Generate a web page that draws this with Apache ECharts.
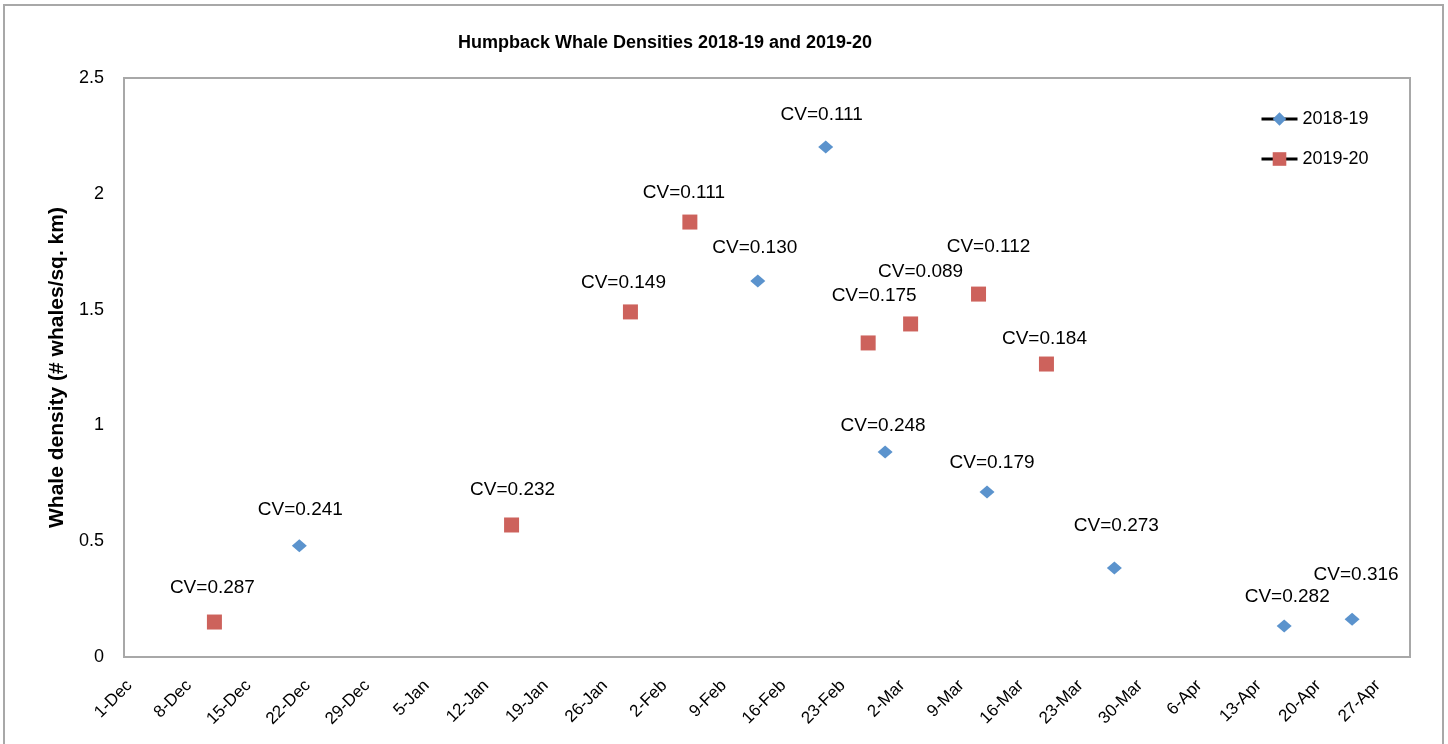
<!DOCTYPE html>
<html><head><meta charset="utf-8">
<script src="https://cdn.jsdelivr.net/npm/echarts@6/dist/echarts.min.js"></script>
<style>
html,body{margin:0;padding:0;background:#fff}
#c{width:1448px;height:744px}
#frame{position:absolute;left:3px;top:4px;width:1441px;height:780px;border:2px solid #a8a8a8;box-sizing:border-box;pointer-events:none}
</style>
</head><body><div id="c"></div><div id="frame"></div>
<script>
// ---- data ----
const tickLabels = ['1-Dec','8-Dec','15-Dec','22-Dec','29-Dec','5-Jan','12-Jan','19-Jan','26-Jan','2-Feb','9-Feb','16-Feb','23-Feb','2-Mar','9-Mar','16-Mar','23-Mar','30-Mar','6-Apr','13-Apr','20-Apr','27-Apr'];
const dates1819 = ['21-Dec','13-Feb','21-Feb','28-Feb','12-Mar','27-Mar','16-Apr','24-Apr'];
const density1819 = [0.48, 1.623, 2.202, 0.885, 0.712, 0.384, 0.134, 0.163];
const cv1819 = ['0.241','0.130','0.111','0.248','0.179','0.273','0.282','0.316'];
const dates1920 = ['11-Dec','15-Jan','29-Jan','5-Feb','26-Feb','3-Mar','11-Mar','19-Mar'];
const density1920 = [0.151, 0.570, 1.490, 1.878, 1.356, 1.438, 1.567, 1.265];
const cv1920 = ['0.287','0.232','0.149','0.111','0.175','0.089','0.112','0.184'];

// ---- label placement (styling only) ----
const labelShift1819 = [[1,-36],[-3,-33],[-4,-32],[-2,-26],[5,-29],[2,-42],[3,-29],[4,-44]];
const labelShift1920 = [[-2,-34],[1,-35],[-7,-29],[-6,-29],[6,-47],[10,-52],[10,-47],[-2,-25]];

const MON = ['Jan','Feb','Mar','Apr','May','Jun','Jul','Aug','Sep','Oct','Nov','Dec'];
const START = Date.UTC(2018, 11, 1);
function toDay(s) {
  const [d, m] = s.split('-');
  const mi = MON.indexOf(m);
  const y = mi === 11 ? 2018 : 2019;
  return (Date.UTC(y, mi, +d) - START) / 864e5;
}
function fmtDay(v) {
  const dt = new Date(START + Math.round(v) * 864e5);
  return dt.getUTCDate() + '-' + MON[dt.getUTCMonth()];
}
const FONT = 'Liberation Sans';
function build(dates, vals, cvs, shifts) {
  return dates.map((d, i) => ({
    value: [toDay(d), vals[i]],
    label: { offset: shifts[i] },
    cv: cvs[i]
  }));
}
const labelCfg = {
  show: true, position: 'inside', color: '#000', fontFamily: FONT, fontSize: 19,
  formatter: p => 'CV=' + p.data.cv
};

const chart = echarts.init(document.getElementById('c'), null, { renderer: 'canvas' });
chart.setOption({
  animation: false,
  backgroundColor: '#fff',
  title: {
    text: 'Humpback Whale Densities 2018-19 and 2019-20',
    left: 660, top: 29, textAlign: 'center',
    textStyle: { fontFamily: FONT, fontSize: 18, fontWeight: 'bold', color: '#000' }
  },
  legend: {
    orient: 'vertical', left: 1260, top: 110, padding: 0,
    itemWidth: 36, itemHeight: 17, itemGap: 22,
    textStyle: { fontFamily: FONT, fontSize: 18, color: '#000' },
    lineStyle: { color: '#000', width: 3, opacity: 1 },
    data: ['2018-19', '2019-20']
  },
  grid: {
    left: 124, right: 38, top: 78, bottom: 87,
    show: true, borderColor: '#a8a8a8', borderWidth: 2, backgroundColor: 'transparent'
  },
  xAxis: {
    type: 'value', min: -0.65, max: 150.82,
    axisLine: { show: false }, axisTick: { show: false }, splitLine: { show: false },
    axisLabel: {
      customValues: tickLabels.map(toDay),
      formatter: fmtDay, rotate: 45, margin: 26,
      fontFamily: FONT, fontSize: 17, color: '#000'
    }
  },
  yAxis: {
    type: 'value', min: 0, max: 2.5, interval: 0.5,
    name: 'Whale density (# whales/sq. km)', nameLocation: 'middle', nameGap: 53,
    nameTextStyle: { fontFamily: FONT, fontSize: 21, fontWeight: 'bold', color: '#000' },
    axisLine: { show: false }, axisTick: { show: false }, splitLine: { show: false },
    axisLabel: { margin: 20, padding: [6, 0, 0, 0], fontFamily: FONT, fontSize: 18, color: '#000' }
  },
  series: [
    {
      name: '2018-19', type: 'line', symbol: 'diamond', symbolSize: [15, 13],
      showAllSymbol: true, silent: true,
      itemStyle: { color: '#5b93cd' },
      lineStyle: { opacity: 0 },
      emphasis: { disabled: true },
      label: labelCfg,
      data: build(dates1819, density1819, cv1819, labelShift1819)
    },
    {
      name: '2019-20', type: 'line', symbol: 'rect', symbolSize: [15, 15],
      showAllSymbol: true, silent: true,
      itemStyle: { color: '#cd625c' },
      lineStyle: { opacity: 0 },
      emphasis: { disabled: true },
      label: labelCfg,
      data: build(dates1920, density1920, cv1920, labelShift1920)
    }
  ]
});
</script>
</body></html>
